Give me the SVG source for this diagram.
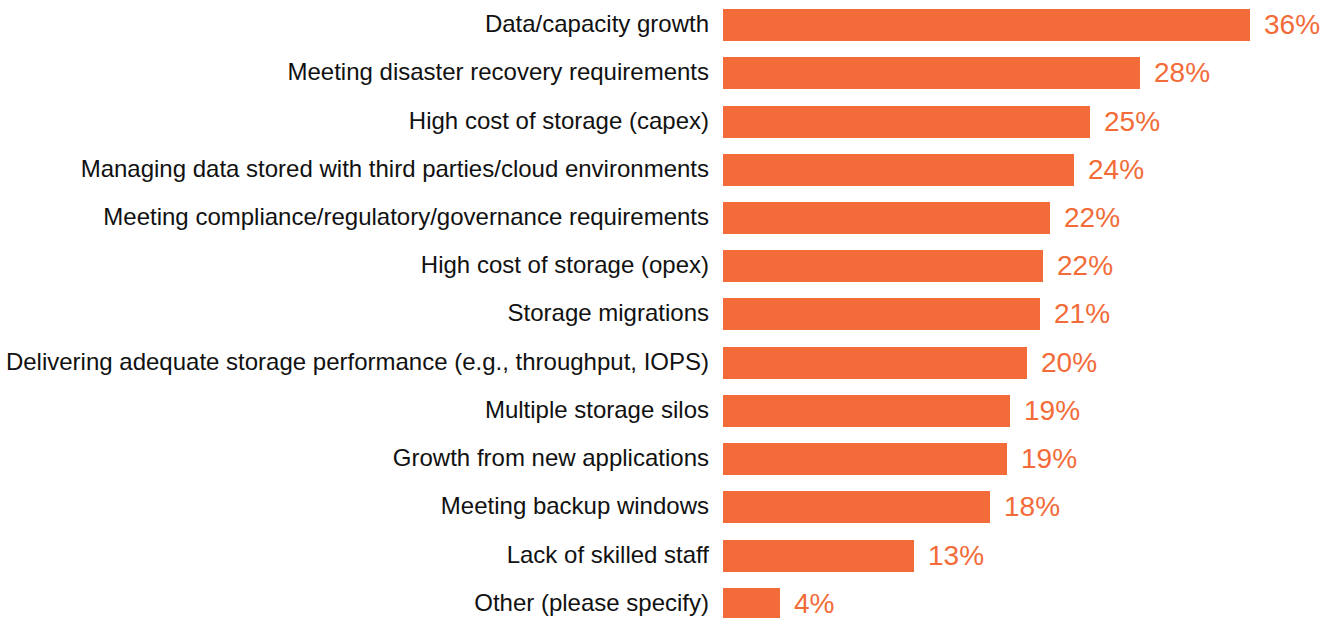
<svg xmlns="http://www.w3.org/2000/svg" width="1331" height="618" viewBox="0 0 1331 618">
<style>
.bar{fill:#F26B38}
.lbl{font-family:"Liberation Sans",Arial,sans-serif;font-size:24px;fill:#111;text-anchor:end;dominant-baseline:central}
.val{font-family:"Liberation Sans",Arial,sans-serif;font-size:28px;fill:#F26B38;dominant-baseline:central}
</style>
<rect width="1331" height="618" fill="#fff"/>
<g id="row1"><text class="lbl" x="709" y="23">Data/capacity growth</text><rect class="bar" x="723" y="9" width="527" height="32"/><text class="val" x="1264" y="24">36%</text></g>
<g id="row2"><text class="lbl" x="709" y="71">Meeting disaster recovery requirements</text><rect class="bar" x="723" y="57" width="417" height="32"/><text class="val" x="1154" y="72">28%</text></g>
<g id="row3"><text class="lbl" x="709" y="120">High cost of storage (capex)</text><rect class="bar" x="723" y="106" width="367" height="32"/><text class="val" x="1104" y="121">25%</text></g>
<g id="row4"><text class="lbl" x="709" y="168">Managing data stored with third parties/cloud environments</text><rect class="bar" x="723" y="154" width="351" height="32"/><text class="val" x="1088" y="169">24%</text></g>
<g id="row5"><text class="lbl" x="709" y="216">Meeting compliance/regulatory/governance requirements</text><rect class="bar" x="723" y="202" width="327" height="32"/><text class="val" x="1064" y="217">22%</text></g>
<g id="row6"><text class="lbl" x="709" y="264">High cost of storage (opex)</text><rect class="bar" x="723" y="250" width="320" height="32"/><text class="val" x="1057" y="265">22%</text></g>
<g id="row7"><text class="lbl" x="709" y="312">Storage migrations</text><rect class="bar" x="723" y="298" width="317" height="32"/><text class="val" x="1054" y="313">21%</text></g>
<g id="row8"><text class="lbl" x="709" y="361">Delivering adequate storage performance (e.g., throughput, IOPS)</text><rect class="bar" x="723" y="347" width="304" height="32"/><text class="val" x="1041" y="362">20%</text></g>
<g id="row9"><text class="lbl" x="709" y="409">Multiple storage silos</text><rect class="bar" x="723" y="395" width="287" height="32"/><text class="val" x="1024" y="410">19%</text></g>
<g id="row10"><text class="lbl" x="709" y="457">Growth from new applications</text><rect class="bar" x="723" y="443" width="284" height="32"/><text class="val" x="1021" y="458">19%</text></g>
<g id="row11"><text class="lbl" x="709" y="505">Meeting backup windows</text><rect class="bar" x="723" y="491" width="267" height="32"/><text class="val" x="1004" y="506">18%</text></g>
<g id="row12"><text class="lbl" x="709" y="554">Lack of skilled staff</text><rect class="bar" x="723" y="540" width="191" height="32"/><text class="val" x="928" y="555">13%</text></g>
<g id="row13"><text class="lbl" x="709" y="602">Other (please specify)</text><rect class="bar" x="723" y="588" width="57" height="32"/><text class="val" x="794" y="603">4%</text></g>
<g id="connectors"/>
</svg>
